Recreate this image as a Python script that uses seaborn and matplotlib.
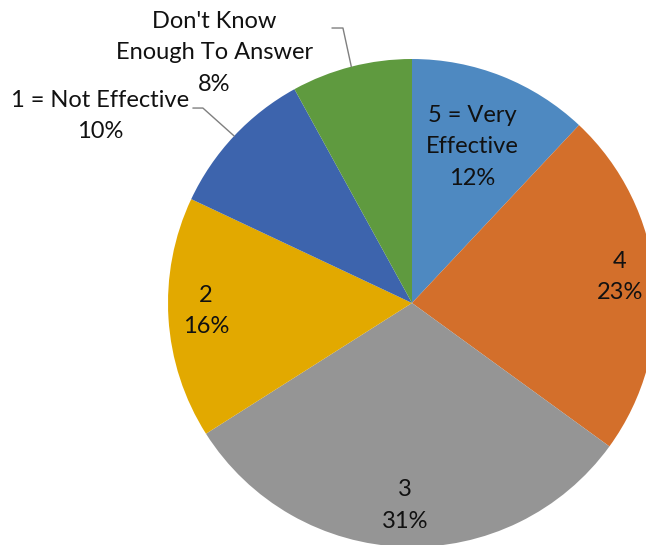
import numpy as np
import matplotlib
matplotlib.use('Agg')
import matplotlib.pyplot as plt
import seaborn as sns

# Survey responses (percent)
categories = ['5 = Very\nEffective', '4', '3', '2', '1 = Not Effective', "Don't Know\nEnough To Answer"]
shares = [12, 23, 31, 16, 10, 8]
colors = ['#4E89C1', '#D36F2B', '#959595', '#E2A900', '#3D64AD', '#5F9A3F']

# label centres (data units, pie radius = 1)
label_pos = [(0.246, 0.64), (0.852, 0.107), (-0.029, -0.83), (-0.844, -0.033),
             (-1.279, 0.766), (-0.811, 1.025)]
# slices whose labels sit outside get a leader line: index -> elbow points
leaders = {4: [(-0.898, 0.799), (-0.857, 0.799)],
           5: [(-0.328, 1.127), (-0.283, 1.127)]}

sns.set_style('white')
plt.rcParams['font.family'] = ['Lato', 'DejaVu Sans']

fig = plt.figure(figsize=(6.46, 5.45), dpi=100)
ax = fig.add_axes([0, 0, 1, 1])

wedges, _ = ax.pie(shares, colors=colors, startangle=90, counterclock=False,
                   radius=1.0, center=(0, 0), frame=True,
                   wedgeprops=dict(linewidth=0))

total = sum(shares)
cum = np.cumsum([0] + shares)
for i, (cat, val) in enumerate(zip(categories, shares)):
    x, y = label_pos[i]
    ax.text(x, y, f'{cat}\n{val}%', ha='center', va='center',
            fontsize=17, color='#111111', linespacing=1.6)
    if i in leaders:
        # clockwise from top: x = sin(theta), y = cos(theta)
        mid = (cum[i] + val / 2) / total * 2 * np.pi
        pts = leaders[i] + [(np.sin(mid), np.cos(mid))]
        xs, ys = zip(*pts)
        ax.plot(xs, ys, color='#7F7F7F', lw=1.0)

# figure shows the pie cropped on the right and bottom
ax.set_xlim(-412 / 244, (646 - 412) / 244)
ax.set_ylim((303 - 545) / 244, 303 / 244)
ax.set_aspect('equal')
ax.axis('off')

fig.savefig('out.png', dpi=100, facecolor='white')
plt.close(fig)
